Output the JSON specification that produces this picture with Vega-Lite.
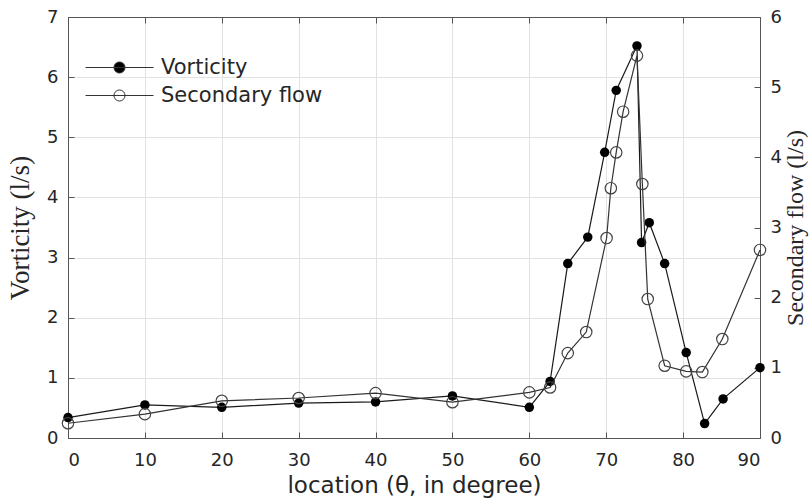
{
  "$schema": "https://vega.github.io/schema/vega-lite/v6.json",
  "width": 692,
  "height": 421,
  "autosize": "none",
  "padding": {"left": 68, "top": 17, "right": 51, "bottom": 61},
  "background": "white",
  "config": {
    "view": {"stroke": "#555555", "strokeWidth": 1},
    "axis": {
      "labelFont": "DejaVu Sans",
      "labelFontSize": 18,
      "labelColor": "#262626",
      "domainColor": "#555555",
      "tickColor": "#555555",
      "gridColor": "#e2e2e2",
      "gridOpacity": 1,
      "titleFontWeight": "normal",
      "titleColor": "#262626"
    }
  },
  "data": {
    "values": [
      {"theta": 0, "value": 0.34, "series": "Vorticity"},
      {"theta": 10, "value": 0.55, "series": "Vorticity"},
      {"theta": 20, "value": 0.51, "series": "Vorticity"},
      {"theta": 30, "value": 0.58, "series": "Vorticity"},
      {"theta": 40, "value": 0.6, "series": "Vorticity"},
      {"theta": 50, "value": 0.7, "series": "Vorticity"},
      {"theta": 60, "value": 0.51, "series": "Vorticity"},
      {"theta": 62.7, "value": 0.94, "series": "Vorticity"},
      {"theta": 65.0, "value": 2.9, "series": "Vorticity"},
      {"theta": 67.6, "value": 3.34, "series": "Vorticity"},
      {"theta": 69.8, "value": 4.75, "series": "Vorticity"},
      {"theta": 71.3, "value": 5.78, "series": "Vorticity"},
      {"theta": 74.0, "value": 6.52, "series": "Vorticity"},
      {"theta": 74.6, "value": 3.25, "series": "Vorticity"},
      {"theta": 75.6, "value": 3.58, "series": "Vorticity"},
      {"theta": 77.6, "value": 2.9, "series": "Vorticity"},
      {"theta": 80.4, "value": 1.42, "series": "Vorticity"},
      {"theta": 82.8, "value": 0.24, "series": "Vorticity"},
      {"theta": 85.2, "value": 0.65, "series": "Vorticity"},
      {"theta": 90, "value": 1.17, "series": "Vorticity"},
      {"theta": 0, "value": 0.21, "series": "Secondary flow"},
      {"theta": 10, "value": 0.34, "series": "Secondary flow"},
      {"theta": 20, "value": 0.53, "series": "Secondary flow"},
      {"theta": 30, "value": 0.57, "series": "Secondary flow"},
      {"theta": 40, "value": 0.64, "series": "Secondary flow"},
      {"theta": 50, "value": 0.51, "series": "Secondary flow"},
      {"theta": 60, "value": 0.65, "series": "Secondary flow"},
      {"theta": 62.7, "value": 0.72, "series": "Secondary flow"},
      {"theta": 65.0, "value": 1.21, "series": "Secondary flow"},
      {"theta": 67.4, "value": 1.51, "series": "Secondary flow"},
      {"theta": 70.05, "value": 2.85, "series": "Secondary flow"},
      {"theta": 70.6, "value": 3.56, "series": "Secondary flow"},
      {"theta": 71.3, "value": 4.07, "series": "Secondary flow"},
      {"theta": 72.2, "value": 4.65, "series": "Secondary flow"},
      {"theta": 74.0, "value": 5.45, "series": "Secondary flow"},
      {"theta": 74.7, "value": 3.62, "series": "Secondary flow"},
      {"theta": 75.4, "value": 1.98, "series": "Secondary flow"},
      {"theta": 77.6, "value": 1.03, "series": "Secondary flow"},
      {"theta": 80.4, "value": 0.95, "series": "Secondary flow"},
      {"theta": 82.5, "value": 0.94, "series": "Secondary flow"},
      {"theta": 85.1, "value": 1.41, "series": "Secondary flow"},
      {"theta": 90, "value": 2.68, "series": "Secondary flow"}
    ]
  },
  "layer": [
    {
      "transform": [{"filter": "datum.series === 'Vorticity'"}],
      "encoding": {
        "x": {
          "field": "theta",
          "type": "quantitative",
          "scale": {"domain": [0, 90], "nice": false, "zero": false},
          "axis": {
            "orient": "bottom",
            "values": [0, 10, 20, 30, 40, 50, 60, 70, 80, 90],
            "tickSize": -6,
            "labelPadding": 19,
            "grid": true,
            "title": "location (θ, in degree)",
            "titleFont": "DejaVu Sans",
            "titleFontSize": 23,
            "titlePadding": 5
          }
        },
        "y": {
          "field": "value",
          "type": "quantitative",
          "scale": {"domain": [0, 7], "nice": false},
          "axis": {
            "orient": "left",
            "values": [0, 1, 2, 3, 4, 5, 6, 7],
            "tickSize": -6,
            "labelPadding": 16,
            "grid": true,
            "title": "Vorticity (l/s)",
            "titleFont": "Liberation Serif",
            "titleFontSize": 27,
            "titlePadding": 12
          }
        }
      },
      "layer": [
        {"mark": {"type": "line", "color": "#1a1a1a", "strokeWidth": 1.2}},
        {
          "mark": {"type": "point", "filled": true, "size": 90, "opacity": 1, "strokeWidth": 0},
          "encoding": {
            "fill": {
              "field": "series",
              "type": "nominal",
              "scale": {"domain": ["Vorticity", "Secondary flow"], "range": ["#000000", "#ffffff"]},
              "legend": {
                "orient": "none",
                "legendX": 41,
                "legendY": 40,
                "title": null,
                "symbolType": "M-4,0H4M0.65,0A0.65,0.65,0,1,1,-0.65,0A0.65,0.65,0,1,1,0.65,0Z",
                "symbolSize": 289,
                "symbolStrokeColor": "#333333",
                "symbolStrokeWidth": 1,
                "symbolOpacity": 1,
                "labelFont": "DejaVu Sans",
                "labelFontSize": 21,
                "labelColor": "#262626",
                "labelOffset": 31,
                "labelLimit": 0,
                "rowPadding": 6,
                "padding": 0
              }
            }
          }
        }
      ]
    },
    {
      "transform": [{"filter": "datum.series === 'Secondary flow'"}],
      "encoding": {
        "x": {
          "field": "theta",
          "type": "quantitative",
          "axis": {
            "orient": "top",
            "values": [0, 10, 20, 30, 40, 50, 60, 70, 80, 90],
            "tickSize": -6,
            "labels": false,
            "grid": false,
            "title": null
          }
        },
        "y": {
          "field": "value",
          "type": "quantitative",
          "scale": {"domain": [0, 6], "nice": false},
          "axis": {
            "orient": "right",
            "values": [0, 1, 2, 3, 4, 5, 6],
            "tickSize": -6,
            "labelPadding": 16,
            "grid": false,
            "title": "Secondary flow (l/s)",
            "titleFont": "Liberation Serif",
            "titleFontSize": 24,
            "titleAngle": 270,
            "titleBaseline": "top",
            "titlePadding": 2
          }
        }
      },
      "layer": [
        {"mark": {"type": "line", "color": "#333333", "strokeWidth": 1.2}},
        {"mark": {"type": "point", "filled": false, "size": 130, "stroke": "#444444", "strokeWidth": 1.2, "opacity": 1}}
      ]
    }
  ],
  "resolve": {"scale": {"y": "independent"}, "axis": {"x": "independent"}}
}
